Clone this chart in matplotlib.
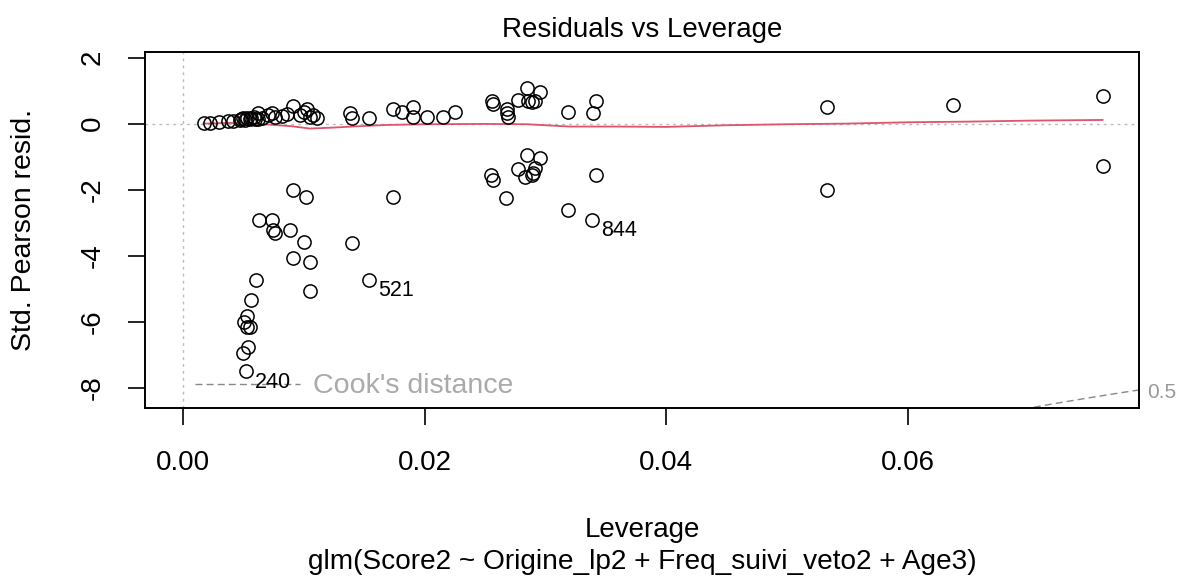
import numpy as np
import matplotlib
matplotlib.use("Agg")
import matplotlib.pyplot as plt

plt.rcParams["font.family"] = ["Liberation Sans", "DejaVu Sans"]
plt.rcParams["axes.unicode_minus"] = False

# leverage / standardized pearson residuals
lev = [0.00174, 0.00223, 0.00298, 0.00372, 0.00414, 0.00472, 0.00513, 0.00554,
       0.00596, 0.00621, 0.00654, 0.00737, 0.00761, 0.00910, 0.00968, 0.01026,
       0.01051, 0.01109, 0.01382, 0.01399, 0.01539, 0.01738, 0.01812, 0.01903,
       0.01903, 0.02019, 0.02152, 0.02251, 0.02557, 0.02566, 0.02681, 0.02681,
       0.02690, 0.02772, 0.02847, 0.02954, 0.02855, 0.02913, 0.02888, 0.03186,
       0.03418, 0.03393, 0.05330, 0.06373, 0.07614,
       0.00500, 0.00530, 0.00560, 0.00590, 0.00620, 0.00480, 0.00700, 0.00820,
       0.00860, 0.01000, 0.01080,
       0.02549, 0.02566, 0.02673, 0.02847, 0.02954, 0.02772, 0.02830, 0.02888,
       0.02913, 0.02897, 0.03186, 0.03385, 0.03418, 0.05330, 0.07614,
       0.00910, 0.01018, 0.01738, 0.00629, 0.00737, 0.00745, 0.00761, 0.00886,
       0.01001, 0.01399, 0.00910, 0.01051, 0.01539, 0.00604, 0.01051, 0.00563,
       0.00530, 0.00505, 0.00554, 0.00530, 0.00538, 0.00497, 0.00521]
resid = [0.03, 0.03, 0.06, 0.09, 0.09, 0.12, 0.12, 0.15,
         0.15, 0.33, 0.18, 0.33, 0.21, 0.52, 0.27, 0.43,
         0.21, 0.18, 0.33, 0.18, 0.18, 0.43, 0.36, 0.49,
         0.21, 0.21, 0.21, 0.36, 0.67, 0.58, 0.43, 0.33,
         0.21, 0.73, 1.09, 0.97, 0.67, 0.67, 0.64, 0.36,
         0.67, 0.33, 0.49, 0.55, 0.85,
         0.16, 0.18, 0.17, 0.19, 0.15, 0.14, 0.25, 0.22,
         0.30, 0.35, 0.26,
         -1.55, -1.70, -2.25, -0.94, -1.03, -1.37, -1.61, -1.55,
         -1.34, -1.49, -2.61, -2.92, -1.55, -2.01, -1.28,
         -2.01, -2.22, -2.22, -2.92, -2.92, -3.22, -3.31, -3.22,
         -3.59, -3.62, -4.07, -4.19, -4.74, -4.74, -5.08, -5.35,
         -5.84, -6.02, -6.17, -6.17, -6.78, -6.96, -7.51]

labels = ["240", "521", "844"]
label_lev = [0.00521, 0.01539, 0.03385]
label_res = [-7.51, -4.74, -2.92]

# smoother (red line)
smooth_lev = [0.0017, 0.004, 0.006, 0.0075, 0.009, 0.0105, 0.0125, 0.0145, 0.017,
              0.02, 0.025, 0.0285, 0.032, 0.036, 0.04, 0.045, 0.05, 0.055, 0.06,
              0.065, 0.07, 0.0761]
smooth_res = [0.0, 0.02, 0.0, -0.04, -0.08, -0.15, -0.12, -0.08, -0.04,
              -0.02, -0.01, -0.02, -0.09, -0.09, -0.1, -0.05, -0.02, 0.0, 0.04,
              0.06, 0.09, 0.11]

n_par = 11.2  # for Cook's distance contour

L, R, T, B = 145, 1139, 52, 408
W, H = 1181, 579
fig = plt.figure(figsize=(11.81, 5.79), dpi=100)
ax = fig.add_axes([L / W, 1 - B / H, (R - L) / W, (B - T) / H])

ax.axhline(0, color="#bbbbbb", ls=(0, (2, 3)), lw=1, zorder=0)
ax.axvline(0, color="#bbbbbb", ls=(0, (2, 3)), lw=1, zorder=0)

ax.plot(lev, resid, "o", mfc="none", mec="black", ms=9.5, mew=1.1, zorder=3)
ax.plot(smooth_lev, smooth_res, color="#df536b", lw=1.3, zorder=2)

for t, x, y in zip(labels, label_lev, label_res):
    ax.text(x + 0.00075, y - 0.33, t, fontsize=15.5, va="center", ha="left")

# Cook's distance 0.5 contour
hh = np.linspace(0.065, 0.0795, 100)
cook = -np.sqrt(0.5 * n_par * (1 - hh) / hh)
ax.plot(hh, cook, color="#888888", ls=(0, (5, 3)), lw=1)

ylo, yhi = -8.62, 2.17
ax.set_xlim(-0.00314, 0.07912)
ax.set_ylim(ylo, yhi)

ax.text(1.008, (-8.14 - ylo) / (yhi - ylo), "0.5", transform=ax.transAxes,
        color="#999999", fontsize=15, va="center", ha="left")

ax.plot([0.001, 0.0097], [-7.89, -7.89], color="#888888", ls=(0, (5, 3)), lw=1)
ax.text(0.01076, -7.95, "Cook's distance", color="#aaaaaa", fontsize=20.5, va="center")

ax.set_xticks([0.0, 0.02, 0.04, 0.06])
ax.set_xticklabels(["0.00", "0.02", "0.04", "0.06"])
ax.set_yticks([2, 0, -2, -4, -6, -8])
ax.tick_params(axis="both", labelsize=20, length=12, width=1.2, direction="out")
ax.tick_params(axis="x", pad=18)
ax.tick_params(axis="y", pad=16)
for lbl in ax.get_yticklabels():
    lbl.set_rotation(90)
    lbl.set_va("center")

for s in ax.spines.values():
    s.set_linewidth(1.4)

cx = (L + R) / 2 / W
fig.text(cx, 1 - 30 / H, "Residuals vs Leverage", ha="center", va="center", fontsize=20)
fig.text(24 / W, 1 - (T + B) / 2 / H, "Std. Pearson resid.", rotation=90,
         ha="center", va="center", fontsize=20.5)
fig.text(cx, 1 - 530 / H, "Leverage", ha="center", va="center", fontsize=20)
fig.text(cx, 1 - 562 / H, "glm(Score2 ~ Origine_lp2 + Freq_suivi_veto2 + Age3)",
         ha="center", va="center", fontsize=20.2)

fig.savefig("out.png", dpi=100)
